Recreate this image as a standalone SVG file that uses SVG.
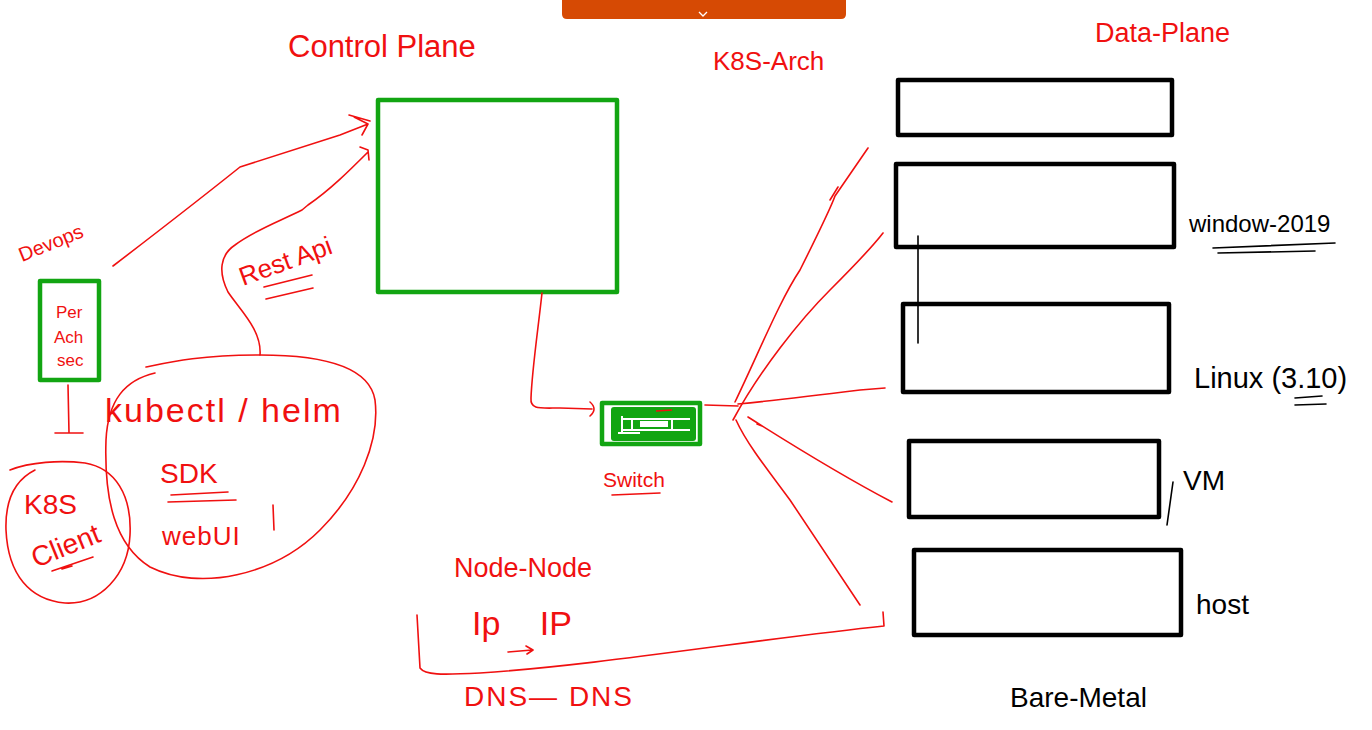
<svg xmlns="http://www.w3.org/2000/svg" width="1372" height="730" viewBox="0 0 1372 730">
<style>
.g{fill:none;stroke:#12A512;stroke-width:4.5;stroke-linejoin:round}
.k{fill:none;stroke:#000;stroke-width:4.5;stroke-linejoin:round}
.r{fill:none;stroke:#F01010;stroke-width:1.6;stroke-linecap:round;stroke-linejoin:round}
.bl{fill:none;stroke:#000;stroke-width:1.6;stroke-linecap:round}
.rt{fill:#F01010;font-family:"Liberation Sans",Arial,sans-serif}
.bt{fill:#000;font-family:"Liberation Sans",Arial,sans-serif}
</style>
<rect width="1372" height="730" fill="#fff"/>
<g id="toolbar">
<path d="M562,0 H846 V14 Q846,19 841,19 H567 Q562,19 562,14 Z" fill="#D64A04"/>
<path d="M699,12 L703,16 L707,12" fill="none" stroke="#fff" stroke-width="1.3"/>
</g>
<g id="titles">
<text class="rt" x="288" y="57" font-size="31">Control Plane</text>
<text class="rt" x="713" y="70" font-size="26">K8S-Arch</text>
<text class="rt" x="1095" y="42" font-size="27">Data-Plane</text>
</g>
<g id="control-plane"><rect class="g" x="378" y="100" width="239" height="192"/></g>
<g id="devops">
<text class="rt" x="22" y="262" font-size="20" transform="rotate(-22 22 262)">Devops</text>
<rect class="g" x="40" y="281" width="59" height="99"/>
<text class="rt" x="56" y="318" font-size="17">Per</text>
<text class="rt" x="54" y="343" font-size="17">Ach</text>
<text class="rt" x="57" y="366" font-size="17">sec</text>
</g>
<g id="k8s-client">
<path class="r" d="M10,470 C30,462 60,460 85,463 C115,468 132,495 130,535 C128,575 100,605 65,603 C30,600 8,575 6,530 C5,500 15,480 35,470"/>
<text class="rt" x="24" y="514" font-size="28">K8S</text>
<text class="rt" x="36" y="568" font-size="28" transform="rotate(-22 36 568)">Client</text>
<path class="r" d="M52,571 L93,557 M62,569 L72,566"/>
</g>
<g id="tools">
<path class="r" d="M155,373 C125,380 108,400 106,440 C104,500 115,545 150,567 C200,592 275,575 320,530 C360,490 380,440 375,400 C370,370 330,355 260,355 C200,355 170,362 146,367"/>
<text class="rt" x="105" y="422" font-size="34" letter-spacing="2">kubectl / helm</text>
<text class="rt" x="160" y="483" font-size="28">SDK</text>
<path class="r" d="M171,495 L228,492 M168,502 L236,500"/>
<text class="rt" x="162" y="545" font-size="26" letter-spacing="1">webUI</text>
<path class="r" d="M273,505 L274,530"/>
<text class="rt" x="243" y="286" font-size="26" transform="rotate(-20 243 286)">Rest Api</text>
<path class="r" d="M264,287 L312,275 M266,299 L313,288"/>
</g>
<g id="switch">
<rect class="g" x="602" y="403" width="98" height="41"/>
<rect x="611" y="407" width="85" height="34" rx="3" fill="#12A512"/>
<path d="M622,419 H690 M622,430 H690 M632,419 V430 M672,419 V430 M618,433 H640 M622,416 V432" stroke="#fff" stroke-width="2" fill="none"/>
<rect x="640" y="421" width="28" height="6" fill="#fff"/>
<path d="M656,411 L672,410" stroke="#F01010" stroke-width="1.6"/>
<text class="rt" x="603" y="487" font-size="21">Switch</text>
<path class="r" d="M612,495 L660,493"/>
</g>
<g id="data-plane">
<rect class="k" x="898" y="80" width="274" height="55"/>
<rect class="k" x="896" y="164" width="278" height="83"/>
<rect class="k" x="903" y="304" width="266" height="88"/>
<rect class="k" x="909" y="441" width="250" height="76"/>
<rect class="k" x="914" y="550" width="267" height="85"/>
<path class="bl" d="M918,236 L918,343"/>
</g>
<g id="data-labels">
<text class="bt" x="1189" y="232" font-size="24">window-2019</text>
<path class="bl" d="M1213,248 L1335,243 M1218,253 L1315,251"/>
<text class="bt" x="1194" y="388" font-size="29">Linux (3.10)</text>
<path class="bl" d="M1295,398 L1322,396 M1295,405 L1326,404"/>
<path class="bl" d="M1173,482 L1167,525"/>
<text class="bt" x="1183" y="490" font-size="28">VM</text>
<text class="bt" x="1196" y="614" font-size="28">host</text>
<text class="bt" x="1010" y="707" font-size="28">Bare-Metal</text>
</g>
<g id="network">
<text class="rt" x="454" y="577" font-size="27">Node-Node</text>
<text class="rt" x="472" y="635" font-size="34" word-spacing="30">Ip IP</text>
<path class="r" d="M508,652 L532,650 M526,646 L533,650 L527,654"/>
<text class="rt" x="464" y="706" font-size="28" letter-spacing="2">DNS— DNS</text>
</g>
<g id="connectors">
<path class="r" d="M113,266 C160,230 205,195 240,167 L340,135 L368,124 M354,117 L368,124 L362,135 M349,115 L370,121"/>
<path class="r" d="M260,355 C262,330 240,310 228,292 C218,272 220,255 235,245 C255,230 278,222 302,210 L308,205 C330,190 350,170 368,152 M360,147 L368,150 L369,160"/>
<path class="r" d="M542,293 C538,330 532,370 531,398 C530,410 540,408 560,408 L592,409 M590,402 Q598,409 590,416"/>
<path class="r" d="M68,385 L69,433 M55,433 L83,433"/>
<path class="r" d="M705,405 L738,406"/>
<path class="r" d="M735,402 C760,350 780,300 800,270 C820,230 830,210 835,196 L868,148 M830,200 L838,187"/>
<path class="r" d="M733,420 C760,370 800,320 830,290 C850,270 870,250 883,233"/>
<path class="r" d="M738,404 C780,400 820,395 860,390 L885,388"/>
<path class="r" d="M748,417 C800,450 850,480 892,502 M757,424 L762,426"/>
<path class="r" d="M736,420 C745,440 760,460 790,500 L860,605"/>
<path class="r" d="M417,615 L420,668 C425,675 440,675 480,673 C600,665 750,640 884,626 L883,612"/>
</g>
</svg>
